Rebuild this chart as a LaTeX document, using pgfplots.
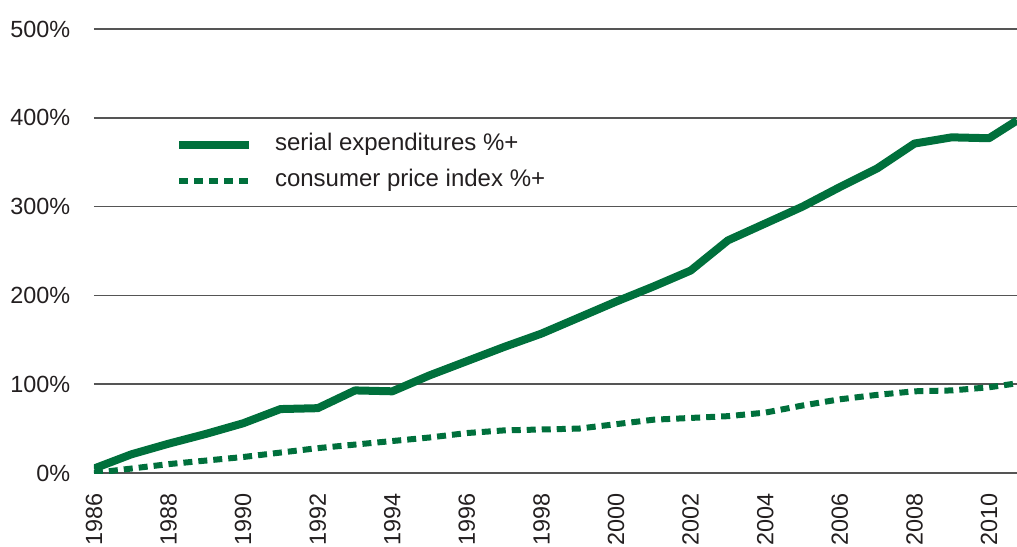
\documentclass[border=0pt]{standalone}
\usepackage{fontspec}
\setmainfont{Liberation Sans}
\usepackage{pgfplots}
\pgfplotsset{compat=1.18}
\usetikzlibrary{calc}
\definecolor{dgreen}{RGB}{0,112,60}
\definecolor{gridc}{RGB}{85,85,85}
\definecolor{txt}{RGB}{35,31,32}
\begin{document}
\begin{tikzpicture}
\begin{axis}[
  scale only axis,
  width=461.5pt, height=222pt,
  xmin=1986, xmax=2010.75,
  ymin=0, ymax=500,
  axis line style={draw=none},
  tick style={draw=none},
  ymajorgrids,
  grid style={gridc, line width=0.8pt},
  ytick={0,100,200,300,400,500},
  yticklabels={0\%,100\%,200\%,300\%,400\%,500\%},
  xtick={1986,1988,1990,1992,1994,1996,1998,2000,2002,2004,2006,2008,2010},
  xticklabels={1986,1988,1990,1992,1994,1996,1998,2000,2002,2004,2006,2008,2010},
  ticklabel style={font=\fontsize{11.7}{13}\selectfont, text=txt},
  yticklabel style={anchor=east, inner sep=0pt},
  yticklabel shift=11.7pt,
  xticklabel style={rotate=90, anchor=east, inner sep=0pt},
  xticklabel shift=10pt,
  legend style={at={(0.0878,0.6985)}, anchor=west, draw=none, fill=none,
    inner sep=0pt, outer sep=0pt,
    font=\fontsize{12}{14}\selectfont, text=txt,
    row sep=6pt,
    nodes={inner sep=0pt, text height=9pt, text depth=3pt},
    /tikz/every odd column/.style={column sep=11pt}},
  legend cell align=left,
  legend image code/.code={\draw[#1] (0pt,0pt) -- (35pt,0pt);},
]
\addplot[dgreen, line width=4pt, line join=round] coordinates {
(1986,5) (1987,21) (1988,33) (1989,44) (1990,56) (1991,72) (1992,73)
(1993,93) (1994,92) (1995,110) (1996,126) (1997,142) (1998,157)
(1999,175) (2000,193) (2001,210) (2002,228) (2003,262) (2004,281)
(2005,300) (2006,322) (2007,343) (2008,371) (2009,378) (2010,377)
(2010.75,397)
};
\addlegendentry{serial expenditures \%+}
\addplot[dgreen, line width=3pt, dash pattern=on 4.5pt off 3pt] coordinates {
(1986,0) (1987,5) (1988,10) (1989,14) (1990,18) (1991,23) (1992,28)
(1993,32) (1994,36) (1995,40) (1996,45) (1997,48) (1998,49)
(1999,50) (2000,55) (2001,60) (2002,62) (2003,64) (2004,68)
(2005,76) (2006,83) (2007,88) (2008,92) (2009,93) (2010,96.5)
(2010.75,101)
};
\addlegendentry{consumer price index \%+}
\end{axis}
\pgfresetboundingbox
\path[use as bounding box] ($(current axis.south west)+(-47pt,-36.5pt)$) rectangle ++(508.5pt,273pt);
\end{tikzpicture}
\end{document}
